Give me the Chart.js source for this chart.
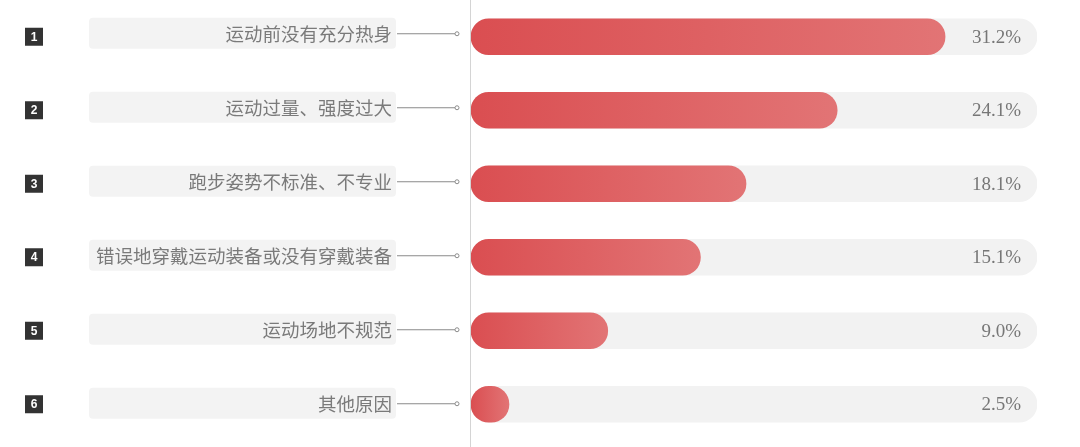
<!DOCTYPE html>
<html>
<head>
<meta charset="utf-8">
<script src="https://cdn.jsdelivr.net/npm/chart.js@4.4.0/dist/chart.umd.min.js"></script>
<style>
  html, body { margin: 0; padding: 0; background: #ffffff; }
  #wrap { width: 1080px; height: 447px; position: relative; }
</style>
</head>
<body>
<div id="wrap"><canvas id="c"></canvas></div>
<script>
const categories = ['运动前没有充分热身', '运动过量、强度过大', '跑步姿势不标准、不专业', '错误地穿戴运动装备或没有穿戴装备', '运动场地不规范', '其他原因'];
const ranks = ['1', '2', '3', '4', '5', '6'];
const values = [31.2, 24.1, 18.1, 15.1, 9.0, 2.5];
const valueLabels = ['31.2%', '24.1%', '18.1%', '15.1%', '9.0%', '2.5%'];
const axisMax = 37.25;
const trackValues = [37.25, 37.25, 37.25, 37.25, 37.25, 37.25];

function redGradient(ctx) {
  const chart = ctx.chart;
  const xs = chart.scales && chart.scales.x;
  if (!xs || ctx.type !== 'data') return '#dc5254';
  const x0 = xs.getPixelForValue(0);
  const x1 = xs.getPixelForValue(ctx.raw);
  if (!isFinite(x0) || !isFinite(x1)) return '#dc5254';
  const g = chart.ctx.createLinearGradient(x0, 0, Math.max(x1, x0 + 1), 0);
  g.addColorStop(0, '#da4e51');
  g.addColorStop(1, '#e27475');
  return g;
}

const sidePlugin = {
  id: 'side',
  beforeDatasetsDraw(chart) {
    const c = chart.ctx;
    c.save();
    c.strokeStyle = '#d4d4d4';
    c.lineWidth = 1;
    c.beginPath();
    c.moveTo(470.5, 0);
    c.lineTo(470.5, chart.height);
    c.stroke();
    c.restore();
  },
  afterDatasetsDraw(chart) {
    const c = chart.ctx;
    const ys = chart.scales.y;
    c.save();
    categories.forEach((cat, i) => {
      const y = ys.getPixelForValue(i);
      const yl = y - 3.5 + i * 0.5;
      c.fillStyle = '#333333';
      c.fillRect(25, y - 9, 18, 18);
      c.fillStyle = '#ffffff';
      c.font = 'bold 12px "Liberation Sans", Arial, sans-serif';
      c.textAlign = 'center';
      c.textBaseline = 'middle';
      c.fillText(ranks[i], 34, y + 0.5);
      c.fillStyle = '#f3f3f3';
      c.beginPath();
      c.roundRect(89, yl - 15.5, 307, 31, 4);
      c.fill();
      c.fillStyle = '#7a7a7a';
      c.font = '18.5px "Noto Sans CJK SC", sans-serif';
      c.textAlign = 'right';
      c.textBaseline = 'middle';
      c.fillText(cat, 392, yl + 1);
      c.strokeStyle = '#8a8a8a';
      c.lineWidth = 1;
      c.beginPath();
      c.moveTo(397, yl + 0.5);
      c.lineTo(455, yl + 0.5);
      c.stroke();
      c.fillStyle = '#ffffff';
      c.beginPath();
      c.arc(457, yl + 0.5, 2, 0, Math.PI * 2);
      c.fill();
      c.stroke();
      c.fillStyle = '#777777';
      c.font = '19px "Liberation Serif", "DejaVu Serif", serif';
      c.textAlign = 'right';
      c.textBaseline = 'middle';
      c.fillText(valueLabels[i], 1021, y + 1);
    });
    c.restore();
  }
};

const chart = new Chart(document.getElementById('c'), {
  type: 'bar',
  data: {
    labels: categories,
    datasets: [
      {
        data: values,
        backgroundColor: redGradient,
        borderRadius: 18,
        borderSkipped: false,
        barThickness: 36,
        grouped: false
      },
      {
        data: trackValues,
        backgroundColor: '#f2f2f2',
        borderRadius: 18,
        borderSkipped: false,
        barThickness: 36,
        grouped: false
      }
    ]
  },
  options: {
    indexAxis: 'y',
    responsive: true,
    maintainAspectRatio: false,
    animation: false,
    layout: { padding: { left: 471, right: 43, top: 0, bottom: 6 } },
    scales: {
      x: { display: false, min: 0, max: axisMax },
      y: { display: false }
    },
    plugins: {
      legend: { display: false },
      tooltip: { enabled: false }
    }
  },
  plugins: [sidePlugin]
});
chart.update();
</script>
</body>
</html>
